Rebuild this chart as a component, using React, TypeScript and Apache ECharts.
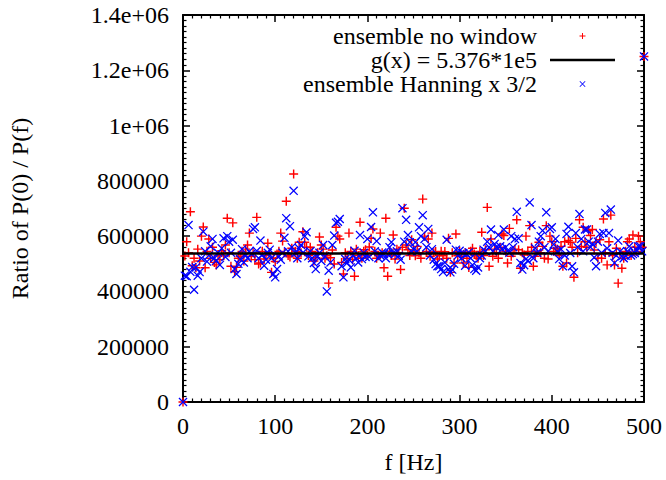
import React, { useEffect, useRef } from "react";
import * as echarts from "echarts";

// Frequency spacing of the spectral bins (Hz); bins run 0..500 Hz
const freqStepHz = 2;
// Ratio P(0)/P(f), in thousands, one value per bin (0, 2, 4, ... 500 Hz)
const ensembleNoWindowK = [
  0, 528, 580, 540, 688, 493, 520, 486, 553, 510,
  600, 633, 486, 545, 590, 520, 560, 505, 496, 529,
  515, 547, 530, 568, 665, 540, 491, 648, 471, 487,
  520, 527, 545, 510, 553, 568, 611, 527, 540, 515,
  668, 499, 503, 545, 517, 530, 574, 540, 469, 520,
  508, 535, 545, 611, 582, 540, 726, 530, 525, 556,
  825, 545, 520, 578, 540, 616, 578, 560, 530, 560,
  545, 510, 522, 540, 597, 568, 553, 520, 529, 430,
  522, 550, 499, 632, 600, 590, 505, 463, 540, 520,
  611, 545, 515, 455, 553, 530, 650, 520, 545, 551,
  530, 561, 592, 626, 545, 520, 529, 611, 540, 486,
  665, 455, 545, 530, 604, 517, 553, 540, 479, 560,
  701, 568, 551, 530, 587, 545, 529, 563, 540, 520,
  734, 600, 545, 590, 527, 611, 540, 544, 517, 530,
  545, 529, 544, 520, 592, 469, 540, 503, 608, 529,
  545, 527, 503, 540, 520, 487, 545, 556, 535, 529,
  520, 545, 614, 530, 551, 704, 491, 590, 527, 553,
  540, 520, 560, 608, 602, 545, 503, 628, 527, 540,
  553, 659, 551, 484, 540, 532, 600, 545, 638, 560,
  491, 527, 545, 578, 540, 563, 520, 638, 517, 600,
  580, 545, 556, 553, 530, 563, 491, 580, 503, 584,
  578, 560, 451, 592, 540, 659, 563, 632, 580, 560,
  620, 602, 624, 550, 578, 520, 587, 520, 662, 540,
  496, 580, 676, 530, 496, 556, 430, 540, 484, 520,
  545, 580, 590, 530, 604, 560, 545, 600, 580, 560,
  1250,
];
const ensembleHanningK = [
  0, 457, 455, 640, 471, 488, 406, 487, 457, 470,
  520, 616, 545, 508, 530, 563, 590, 520, 511, 540,
  496, 556, 592, 525, 600, 580, 540, 587, 481, 463,
  500, 517, 553, 505, 530, 520, 545, 535, 626, 632,
  547, 520, 584, 532, 493, 515, 540, 551, 520, 463,
  451, 481, 527, 515, 540, 594, 665, 545, 636, 560,
  764, 539, 520, 556, 568, 540, 600, 614, 527, 545,
  520, 503, 481, 527, 540, 510, 568, 527, 400, 475,
  505, 568, 602, 648, 652, 662, 491, 451, 517, 503,
  515, 487, 530, 547, 520, 505, 604, 517, 540, 525,
  590, 525, 633, 686, 545, 582, 520, 530, 541, 535,
  520, 535, 560, 578, 540, 535, 545, 529, 515, 701,
  580, 659, 604, 578, 544, 553, 578, 545, 632, 600,
  676, 590, 560, 626, 530, 553, 515, 499, 491, 491,
  481, 470, 505, 587, 480, 469, 479, 500, 551, 530,
  547, 520, 539, 493, 535, 541, 520, 496, 481, 475,
  487, 520, 530, 551, 545, 580, 560, 624, 545, 572,
  560, 604, 563, 553, 624, 560, 547, 540, 600, 560,
  590, 688, 592, 503, 479, 495, 517, 511, 722, 640,
  520, 556, 540, 580, 600, 620, 560, 686, 545, 626,
  632, 570, 590, 545, 517, 553, 491, 530, 608, 634,
  539, 491, 469, 611, 560, 680, 590, 545, 624, 624,
  580, 560, 572, 523, 491, 580, 608, 540, 611, 684,
  556, 611, 696, 540, 503, 530, 584, 545, 527, 520,
  529, 545, 563, 530, 535, 539, 550, 563, 563, 545,
  1250,
];
const fitValue = 537600; // g(x) = 5.376*1e5
const fitRangeHz = [0, 500];
const seriesNames = ["ensemble no window", "g(x) = 5.376*1e5", "ensemble Hanning x 3/2"];
const xTicks = [0, 100, 200, 300, 400, 500];
const yTickLabels = ["0", "200000", "400000", "600000", "800000", "1e+06", "1.2e+06", "1.4e+06"];
const yStep = 200000;

const PLUS = "M0,4.2 L10,4.2 L10,5.8 L0,5.8 Z M4.2,0 L5.8,0 L5.8,10 L4.2,10 Z";
const CROSS = "M0,1 L1,0 L10,9 L9,10 Z M9,0 L10,1 L1,10 L0,9 Z";
// legend icons: same glyphs, padded by invisible corner points so they draw small
const PAD = "M-49,-6.6 L-48.99,-6.6 L-49,-6.59 Z M59,16.6 L58.99,16.6 L59,16.59 Z ";
const LINE_ICON = "M0,0 L65,0 L65,2.5 L0,2.5 Z";

const FONT = "Liberation Serif";

export default function App() {
  const ref = useRef<HTMLDivElement>(null);
  useEffect(() => {
    if (!ref.current) return;
    const chart = echarts.init(ref.current, null, { renderer: "svg" });
    const toPts = (arr: number[]) => arr.map((v, i) => [i * freqStepHz, v * 1000]);
    const axisCommon = {
      type: "value" as const,
      axisLine: { show: true, onZero: false, lineStyle: { color: "#000", width: 2 } },
      axisTick: { show: true, inside: true, length: 7, lineStyle: { color: "#000", width: 1.5 } },
      minorTick: { show: true, splitNumber: 10, length: 3.5, lineStyle: { color: "#000", width: 1.2 } },
      splitLine: { show: false },
    };
    const labelStyle = { color: "#000", fontFamily: FONT, fontSize: 24 };
    chart.setOption({
      animation: false,
      backgroundColor: "#fff",
      grid: { left: 183, right: 22, top: 15, bottom: 78, containLabel: false },
      legend: {
        orient: "vertical",
        align: "right",
        right: 51,
        top: 24,
        padding: 0,
        itemWidth: 65,
        itemHeight: 14,
        itemGap: 0,
        selectedMode: false,
        textStyle: { ...labelStyle, lineHeight: 24, padding: [0, 8, 0, 0] },
        data: [
          { name: seriesNames[0], icon: "path://" + PAD + PLUS },
          { name: seriesNames[1], icon: "path://" + LINE_ICON, itemStyle: { color: "#000" } },
          { name: seriesNames[2], icon: "path://" + PAD + CROSS },
        ],
      },
      xAxis: [
        {
          ...axisCommon,
          position: "bottom",
          min: xTicks[0],
          max: xTicks[xTicks.length - 1],
          interval: xTicks[1] - xTicks[0],
          axisLabel: { ...labelStyle, margin: 12 },
          name: "f [Hz]",
          nameLocation: "middle",
          nameGap: 48,
          nameTextStyle: labelStyle,
        },
        {
          ...axisCommon,
          position: "top",
          min: xTicks[0],
          max: xTicks[xTicks.length - 1],
          interval: xTicks[1] - xTicks[0],
          axisLabel: { show: false },
        },
      ],
      yAxis: [
        {
          ...axisCommon,
          position: "left",
          min: 0,
          max: yStep * (yTickLabels.length - 1),
          interval: yStep,
          axisLabel: {
            ...labelStyle,
            margin: 14,
            formatter: (v: number) => yTickLabels[Math.round(v / yStep)],
          },
          name: "Ratio of P(0) / P(f)",
          nameLocation: "middle",
          nameGap: 151,
          nameTextStyle: labelStyle,
        },
        {
          ...axisCommon,
          position: "right",
          min: 0,
          max: yStep * (yTickLabels.length - 1),
          interval: yStep,
          axisLabel: { show: false },
        },
      ],
      series: [
        {
          name: seriesNames[0],
          type: "scatter",
          data: toPts(ensembleNoWindowK),
          symbol: "path://" + PLUS,
          symbolSize: 9,
          clip: false,
          itemStyle: { color: "#ff0000", opacity: 1 },
        },
        {
          name: seriesNames[1],
          type: "line",
          data: fitRangeHz.map((f) => [f, fitValue]),
          symbol: "none",
          showSymbol: false,
          lineStyle: { color: "#000", width: 2.5 },
          itemStyle: { color: "#000" },
        },
        {
          name: seriesNames[2],
          type: "scatter",
          data: toPts(ensembleHanningK),
          symbol: "path://" + CROSS,
          symbolSize: 9,
          clip: false,
          itemStyle: { color: "#0000ff", opacity: 1 },
        },
      ],
    });
    return () => chart.dispose();
  }, []);
  return (
    <div
      ref={ref}
      style={{ position: "absolute", left: 0, top: 0, width: 666, height: 480, background: "#fff" }}
    />
  );
}
